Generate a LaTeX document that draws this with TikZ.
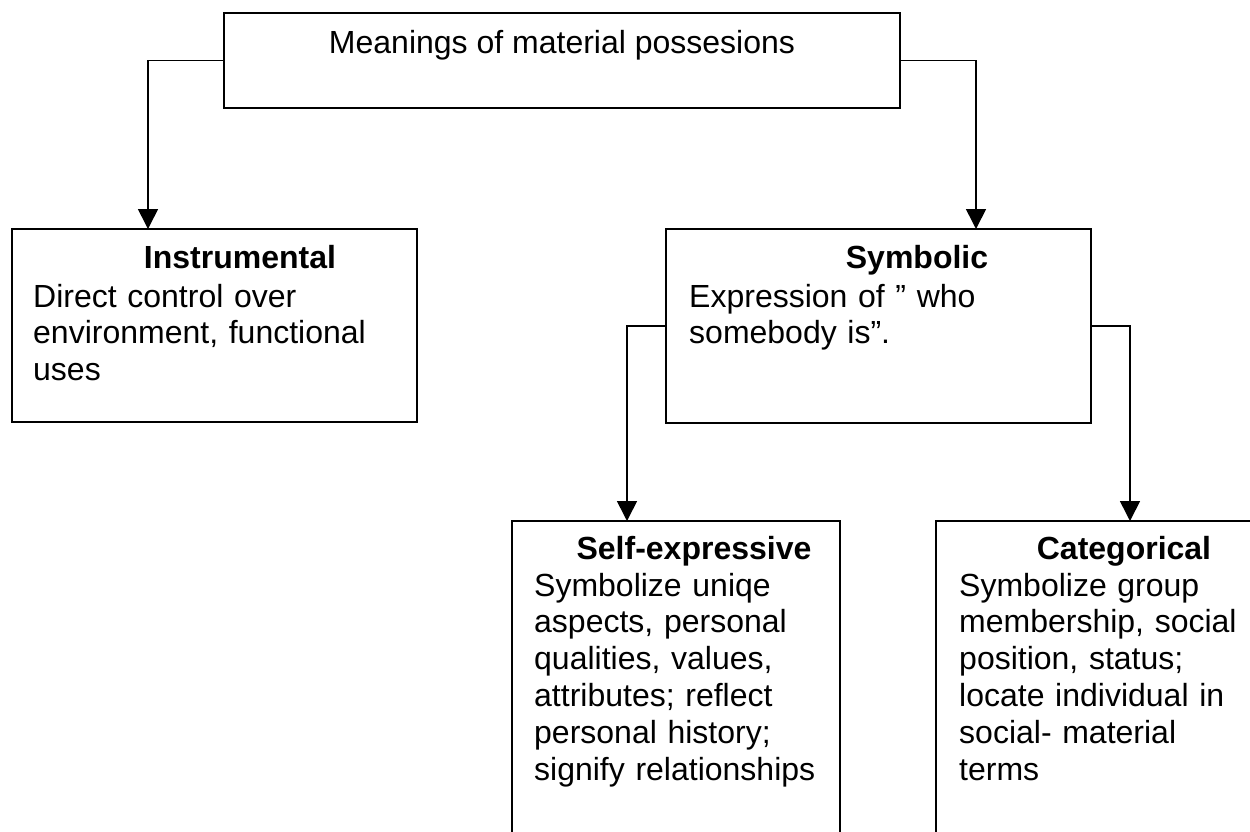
\documentclass[tikz,border=0pt]{standalone}
\usepackage{fontspec}
\setmainfont{Liberation Sans}
\usetikzlibrary{arrows.meta}

\tikzset{
  box/.style={draw, line width=1.6pt, inner sep=0pt},
  link/.style={line width=1.6pt, -{Triangle[length=20pt,width=20pt]}},
  title/.style={inner sep=0pt, anchor=base, font=\fontsize{32}{36.8}\selectfont\bfseries},
  heading/.style={inner sep=0pt, anchor=base, font=\fontsize{32}{36.8}\selectfont},
  body/.style={inner sep=0pt, anchor=base west, align=left, text width=#1,
    font=\fontsize{32}{36.8}\selectfont},
}

\begin{document}
\begin{tikzpicture}[x=1pt, y=-1pt]
  \useasboundingbox (0,0) rectangle (1250,831);
  \clip (0,0) rectangle (1250,831);

  % boxes
  \node[box, minimum width=676pt, minimum height=95.3pt] (top) at (562,60.4) {};
  \node[box, minimum width=405pt, minimum height=193pt] (instr) at (214.5,325.5) {};
  \node[box, minimum width=425pt, minimum height=194pt] (symb) at (878.5,326) {};
  \node[box, minimum width=328pt, minimum height=379pt] (self) at (676,710.5) {};
  \node[box, minimum width=364pt, minimum height=379pt] (cat) at (1118,710.5) {};

  % texts
  \node[heading] (t-top) at (562,53) {Meanings of material possesions};

  \node[title] (t-instr) at (240,268) {Instrumental};
  \node[body=380pt] (b-instr) at (33,307) {Direct control over\\environment, functional\\uses};

  \node[title] (t-symb) at (917,268) {Symbolic};
  \node[body=390pt] (b-symb) at (689,307) {Expression of ” who\\somebody is”.};

  \node[title] (t-self) at (694,559) {Self-expressive};
  \node[body=300pt] (b-self) at (534,596) {Symbolize uniqe\\aspects, personal\\qualities, values,\\attributes; reflect\\personal history;\\signify relationships};

  \node[title] (t-cat) at (1124,559) {Categorical};
  \node[body=300pt] (b-cat) at (959,596) {Symbolize group\\membership, social\\position, status;\\locate individual in\\social- material\\terms};

  % arrow entry points
  \coordinate (instr-in) at (148,229);
  \coordinate (symb-in) at (976,229);
  \coordinate (self-in) at (627,521);
  \coordinate (cat-in) at (1130,521);

  % connectors
  \draw[link] (top.west) -| (instr-in);
  \draw[link] (top.east) -| (symb-in);
  \draw[link] (symb.west) -| (self-in);
  \draw[link] (symb.east) -| (cat-in);
\end{tikzpicture}
\end{document}
